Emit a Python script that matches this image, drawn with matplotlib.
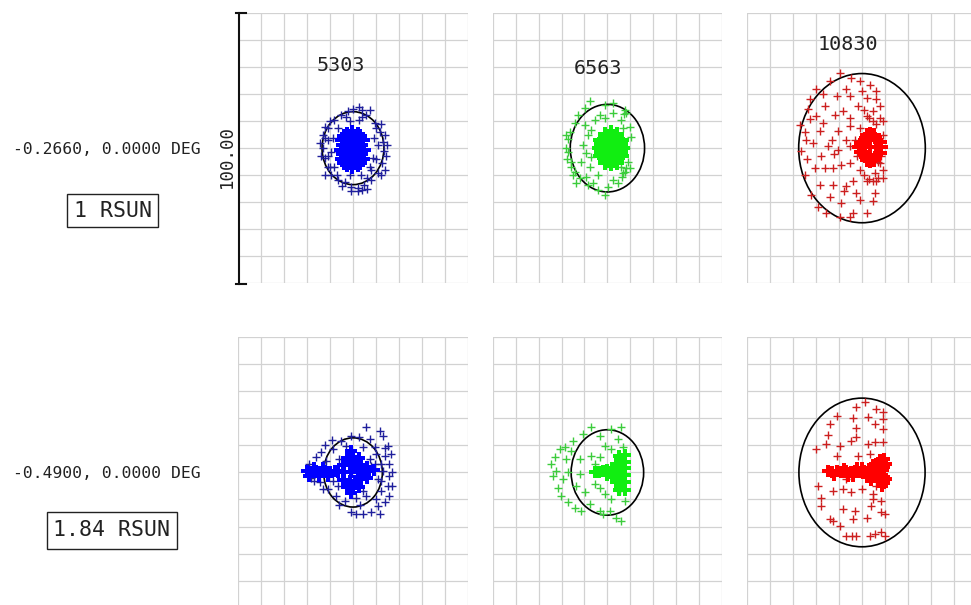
import matplotlib
matplotlib.use("Agg")
import matplotlib.pyplot as plt
from matplotlib.patches import Circle, Rectangle
from matplotlib.lines import Line2D
import numpy as np

plt.rcParams['font.family'] = ['DejaVu Sans Mono', 'DejaVu Sans']

# ---------------------------------------------------------------- labels
wavelengths = ["5303", "6563", "10830"]
row_positions = ["-0.2660, 0.0000 DEG", "-0.4900, 0.0000 DEG"]
row_heights = ["1 RSUN", "1.84 RSUN"]
scale_label = "100.00"

# limb circle radius for each panel (same units as the point offsets)
limb_radius_top = [13.5, 16.2, 27.6]
limb_radius_bottom = [12.8, 15.8, 27.5]

# ---------------------------------------------------------------- row 1 (1 RSUN)
blue_top_ring = [
    (2.8, 15.4), (7.2, 14.2), (-2.3, 13.6), (-5.2, 12.3), (-8.1, 10.5), (-11, 7.4),
    (-12.4, 3.7), (-13.2, 0), (-12.4, -3.7), (-11, -6.8), (-9.5, -9.9), (-6.6, -11.7),
    (-3.7, -12.6), (-0.8, -14.2), (2.1, -14.6), (5, -13.6), (8, -11.7), (10.8, -9.3),
    (12.6, -5.6), (13.4, -1.2), (13, 2.4), (11.6, 6.1), (9.4, 9.3), (5.8, 12.1),
    (10.1, 7.4), (9.1, 3.7), (8.6, -3.7), (7.2, -6.8), (3.6, -9.9), (-1.5, -9.9),
    (-8.1, -6.8), (-9.5, -1.3), (-8.8, 3.7), (-6.6, 7.4), (-1.5, 9.9), (2.8, 10.5),
    (-14.5, 2), (-14, -3), (14.5, -3), (15, 1), (14, 5), (-1, -16), (2, -16),
    (4, -15.5), (6, -15), (12, -10), (14, -8), (-12, -10), (-13, 5), (-10, 10),
    (0, 14.5), (4, 14), (-5, -14), (12, 9), (-11, 3), (-11, -3), (11, 1), (10, -4),
    (6, -11), (-7, -10), (-3, 11.5), (4, 11.5), (8, -8), (-10, -7), (-12, 8),
]
blue_top_core = [
    (-0.3, -0.6), (-3.3, -0.6), (2.7, -0.6), (-5.2, -0.6), (4.6, -0.6),
    (-0.3, 3), (-3.3, 3), (2.7, 3), (-4.8, 3), (4.2, 3),
    (-0.3, -4), (-3.3, -4), (2.7, -4), (-4.8, -4), (4.2, -4),
    (-0.3, 5.8), (-2.6, 5.2), (2, 5.2), (-0.3, -6.8), (-2.6, -6.2), (2, -6.2),
    (-1.8, 1.2), (1.2, 1.2), (-1.8, -2.3), (1.2, -2.3), (-4.2, 1.2), (3.6, 1.2),
    (-4.2, -2.3), (3.6, -2.3), (-1.8, 4.5), (1.2, 4.5), (-1.8, -5.5), (1.2, -5.5),
    (-3.8, 4.6), (3.2, 4.6), (-3.8, -5.4), (3.2, -5.4),
]

green_top_ring = [
    (-7.7, 17.3), (-1.2, 16), (2.5, 16.7), (8.3, 13), (9.7, 8), (10.5, 4.3),
    (9.7, -7.4), (6.8, -9.3), (4.6, -13), (0.3, -14.2), (-1.2, -17.3), (-4.1, -15.4),
    (-8.5, -13.6), (-12.1, -11.1), (-14.3, -8.7), (-15.7, -5), (-17.2, -1.3),
    (-17.2, 3.4), (-16.5, 6.1), (-14.3, 9.3), (-12.8, 12.3), (-9.9, 14.8),
    (-9.9, 8.6), (-8.5, 4.9), (-10.6, 1.2), (-9.2, -1.9), (-11.4, -5), (-7.7, -6.8),
    (-9.2, -10.5), (-4.1, -9.9), (-3.4, 12.3), (-5.5, 10.5), (-1.2, 11.1), (2.5, 13),
    (6.1, 10.5), (6.8, 7.4), (8.3, 0), (9, -5), (2.5, -11.7), (-6.3, -13),
    (-13.5, -13), (-7, -3.1), (-7, 6.8), (6, -7), (7.5, -9), (8, -7.5), (6.5, -10.5),
    (7.6, 14.2), (7.2, 12.5), (-18, 0), (-17.5, -4), (-16, -7), (-18, 5), (-15, -10),
]
green_top_core = [
    (1.5, 0), (-1.5, 0), (4.5, 0), (-3.8, 0), (6.8, 0),
    (1.5, 3.5), (-1.5, 3.5), (4.5, 3.5), (-3.4, 3), (6.3, 3),
    (1.5, -3.5), (-1.5, -3.5), (4.5, -3.5), (-3.4, -3), (6.3, -3),
    (1.5, 6), (-1, 5.4), (4, 5.4), (1.5, -6), (-1, -5.4), (4, -5.4),
    (0, 1.8), (3, 1.8), (0, -1.8), (3, -1.8), (-3, 1.5), (6, 1.5), (-3, -1.5),
    (6, -1.5), (0, 4.6), (3, 4.6), (0, -4.6), (3, -4.6),
]

red_top_ring = [
    (-9.7, 27.9), (-4.6, 26), (-1, 24.7), (3.4, 23.5), (-14.1, 24.7), (-19.9, 21.7),
    (-22.8, 18), (-11.1, 19.2), (-5.3, 19.2), (2, 18.6), (6.3, 18), (7.8, 15.5),
    (-16.2, 15.5), (-23.5, 14.3), (-1.7, 15.5), (-8.3, 13.6), (4.8, 13.6),
    (-27, 8.7), (-22.8, 10.6), (-17, 9.3), (-11.9, 12.4), (-5.3, 11.2), (2, 11.8),
    (7.8, 11.2), (-1, 7.5), (-5.3, 8.1), (-10.4, 6.2), (-18.4, 6.2), (-24.2, 3.1),
    (-26.4, -1.2), (-21.4, 1.9), (-14.8, 0.7), (-10.4, -0.6), (-5.3, 0.7),
    (-20.6, -7.3), (-16.2, -7.3), (-12.6, -7.3), (-9, -6.1), (-5.3, -5.5),
    (-25, -9.8), (-3.9, -12.3), (2, -12.3), (5.6, -9.2), (6.3, -12.3),
    (-18.4, -13.5), (-12.6, -13.5), (-6.8, -14.1), (-22.1, -17.2), (-9, -20.3),
    (-2.4, -16.6), (-1, -19.1), (5.6, -16.6), (4.8, -19.7), (-19.2, -21.6),
    (-15.5, -24), (-9.7, -25.3), (-3.9, -24), (2, -24), (-5.3, -25.3),
    (9, 10), (9, 5), (8.5, -3), (8, -5.5), (9, -8), (9, -11), (7, -5),
    (1, -10), (3, -11.5), (5, -12), (7, -11), (3, 11), (5, 10), (6, 9),
    (-24, -4), (-20, 12), (-13, 3), (-7, 3), (-2, -3), (-1, -8), (-14, -18),
    (-8, -16), (0, 21), (-17, 20), (-25, 6), (-3, 3), (1, 14), (6, 21),
    (-7, 22), (-12, -2), (-18, -3),
]
red_top_core = [
    (3.6, 0.3), (0.8, 0.3), (6.4, 0.3), (-1.2, 0.3), (8.5, 0.3), (3.6, 3.2),
    (3.6, -2.7), (3.6, 5.2), (3.6, -4.8), (1.2, 3.2), (6.0, 3.2), (1.2, -2.7),
    (6.0, -2.7), (-0.4, 1.8), (-0.4, -1.3), (7.8, 2.2), (7.8, -1.8), (2.0, 4.8),
    (5.4, 4.8), (2.0, -4.3), (5.4, -4.3),
]

# ---------------------------------------------------------------- row 2 (1.84 RSUN)
blue_bottom_ring = [
    (5.8, 16.7), (11.6, 15.4), (13, 13.6), (-0.8, 13.6), (2.8, 13), (7.2, 12.3),
    (-5.2, 11.7), (-8.8, 8.6), (-3, 9.9), (4.3, 9.3), (9.4, 9.3), (15.2, 9.9),
    (16.7, 6.8), (13.8, 6.1), (10.1, 6.8), (-16.1, 5.6), (-11.7, 4.3), (15.9, 3.1),
    (13, 0.6), (15.9, -1.2), (10.8, -2.5), (15.2, -5), (12.3, -6.8), (15.9, -8.7),
    (10.1, -9.9), (13.8, -11.1), (10.8, -12.4), (11.6, -15.4), (7.9, -14.8),
    (4.3, -15.4), (1.4, -15.2), (-0.8, -14.8), (-3.7, -10.5), (-7.3, -8.7),
    (-11, -6.2), (-14.6, -3.7), (-18.3, -1.9), (-17, -3), (4.3, -6.8), (5.8, -8.7),
    (1.4, -9.3), (7.9, 2.5), (-5.9, 4.9), (-8.8, -3.1), (-6.6, -5), (7.2, 4.9),
    (9.4, 3.1), (-19, 3.1), (-13.9, 7.4), (-12, 10), (-9, 12), (3, -12), (-6, -12),
    (-13, -6), (12, -3), (17, 0), (12, 3), (17, -5), (14, 9),
]
blue_bottom_core = [
    (-20, 0.5), (-18, 0), (-16, 0.5), (-14, 0), (-12, 0.5), (-10, 0), (-8, 0.5),
    (-6.5, 0), (-19, -1.3), (-17, 1.6), (-15, -1.3), (-13, 1.6), (-11, -1.3),
    (-4, 0), (-1, 0), (2, 0), (4.5, 0), (7, 0.5), (-4.5, 2.8), (-1.5, 3), (1, 3),
    (3.5, 2.6), (-2.6, 5.5), (0, 5.8), (2.4, 5.3), (-0.8, 7.8), (-4.5, -2.8),
    (-1.5, -3), (1, -3), (3.5, -2.6), (-2.6, -5.5), (0, -5.8), (2.4, -5.3),
    (-0.8, -7.5), (6, 2), (6, -2), (9, 1),
]

green_bottom_ring = [
    (-7, 16.7), (1.7, 16), (6.1, 16.7), (-10.7, 14.2), (-3.4, 13.6), (4.6, 12.3),
    (-15, 11.7), (-18.6, 9.3), (-23, 5.6), (-24.5, 3.1), (-22.3, 0.6), (-23.8, -1.2),
    (-19.4, -2.5), (-21.6, -5.6), (-20.1, -8.7), (-17.2, -11.1), (-14.3, -13),
    (-11.4, -14.2), (-7.7, -11.7), (-3.4, -14.2), (1, -14.2), (-1.9, -15.4),
    (3.9, -16.7), (6.1, -17.9), (-17.9, 4.9), (-17.2, 0), (-12.1, 4.9),
    (-12.1, -0.6), (-13.5, -5), (-9.9, -7.4), (-7, 6.1), (-3.4, 5.6), (-5.5, 3.1),
    (-1.2, 9.9), (1.7, 8.6), (-5.5, -4.3), (-3.4, -5.6), (-1.2, -8), (1.7, -9.9),
    (5.4, -6.8), (6.8, 9.3), (4.6, 5.6), (7.6, -10.5), (-15.7, 8), (-20.8, 8.6),
]
green_bottom_core = [
    (7.5, 6.5), (7.5, 4), (7.5, 1.5), (7.5, -1), (7.5, -3.5), (7.5, -6.5),
    (5.5, 5), (5.5, 2.5), (5.5, 0), (5.5, -2.5), (5.5, -5), (3.8, 3.2), (3.8, 1),
    (3.8, -1.2), (3.8, -3.4), (2, 1.6), (2, 0), (2, -1.6), (0, 0.8), (0, -0.8),
    (-2, 0.4), (-3.8, 0), (-5.5, 0), (5, 6.2), (5, -6.5),
]

red_bottom_ring = [
    (1.2, 25.9), (-2.4, 24.1), (6.3, 23.4), (9.2, 22.2), (-11.1, 21), (-3.9, 20),
    (2.7, 20.4), (9.2, 19.7), (-14.1, 17.9), (5.6, 17.9), (-2.4, 16.3), (9.2, 16),
    (-14.8, 13.8), (-2.4, 13), (2.7, 10.5), (5.6, 11.1), (9.2, 11.1), (-9.7, 9.9),
    (-15.5, 10.5), (-19.9, 8.6), (-4.6, 11.7), (-11.1, 6.1), (-1.7, 6.1), (3.4, 6.8),
    (-19.2, -5), (-12.6, -6.8), (-8.3, -6.2), (-4.6, -7.4), (-0.2, -6.2),
    (-6.8, -2.5), (-17.7, -9.3), (-17.7, -12.4), (-8.3, -13.6), (-3.1, -14.2),
    (4.8, -9.9), (8.5, -10.5), (4.1, -12.4), (8.5, -14.8), (10, -15.5),
    (-14.1, -17.3), (-12.6, -17.9), (-3.9, -17.3), (2, -16.7), (-9.7, -19.8),
    (-6.8, -23.5), (-4.5, -23.5), (-2.5, -23.5), (3.4, -23.5), (5.6, -22.8),
    (8.5, -22.2), (9.9, -23.5), (4.8, -8), (6.3, -5),
]
red_bottom_core = [
    (-15, 0.5), (-13, 0), (-11, 0.5), (-9, 0), (-7, 0.5), (-5, 0), (-3, 0.5),
    (-1, 0), (1, 0.5), (3, 0), (5, 0.5), (6.5, 0), (-12, -1), (-8, 1.4), (-4, -1.4),
    (-2, 1.8), (2, -1.8), (4, 1.8), (5, -1.8), (-6, -1.4), (0, 1.6),
    (8, 4.5), (9.5, 5), (8, 2.5), (9.5, 2.2), (8, -1), (9.5, -1.5), (9, 1), (8, -3.3),
    (9.5, -3.8), (8.8, -5), (7, 3.6), (7, -2.8), (10.3, 3.3), (10.3, -2.5),
    (6.5, 1.5), (5, 2.8), (4, -2.8),
]

# ---------------------------------------------------------------- styling
sparse_colors = ['#1f1f9c', '#3ccc3c', '#cc1f1f']
core_colors = ['#0000ff', '#11ee11', '#ff0000']

rows = [
    (limb_radius_top, 10.0, [(blue_top_ring, blue_top_core),
                             (green_top_ring, green_top_core),
                             (red_top_ring, red_top_core)]),
    (limb_radius_bottom, 8.5, [(blue_bottom_ring, blue_bottom_core),
                               (green_bottom_ring, green_bottom_core),
                               (red_bottom_ring, red_bottom_core)]),
]

W, H = 971, 605
fig = plt.figure(figsize=(W / 100, H / 100), dpi=100)


def fx(px):
    return px / W


def fy(py):
    return 1 - py / H


col_left = [238.3, 492.7, 747.3]
row_top = [13.0, 337.3]
panel_w, panel_h = 229.4, 270.3

for r, (radii, core_ms, panels) in enumerate(rows):
    for c, (ring, core) in enumerate(panels):
        ax = fig.add_axes([fx(col_left[c]), fy(row_top[r] + panel_h),
                           panel_w / W, panel_h / H])
        ax.set_xlim(-50, 50)
        ax.set_ylim(-50, 50)
        ax.set_xticks(np.arange(-50, 51, 10))
        ax.set_yticks(np.arange(-50, 51, 10))
        ax.tick_params(length=0, labelbottom=False, labelleft=False)
        ax.grid(True, color='#d2d2d2', lw=0.9)
        ax.set_axisbelow(True)
        for s in ax.spines.values():
            s.set_visible(False)
        ax.patch.set_alpha(0)

        ax.add_patch(Circle((0, 0), radii[c], fill=False, ec='black',
                            lw=1.2, zorder=2))
        rx, ry = zip(*ring)
        ax.plot(rx, ry, ls='none', marker='+', ms=5.5, mew=1.0,
                color=sparse_colors[c], zorder=3)
        cx, cy = zip(*core)
        ax.plot(cx, cy, ls='none', marker='P', ms=core_ms, mew=0,
                color=core_colors[c], zorder=4)

# wavelength titles above the first row
title_pos = [(340.8, 65.5), (598.0, 68.0), (847.7, 45.0)]
for label, (x, y) in zip(wavelengths, title_pos):
    fig.text(fx(x), fy(y), label, ha='center', va='center', fontsize=14.5,
             color='#222222')

# row annotations at the left
pos_y = [149.5, 473.0]
box_rects = [(66.7, 194.3, 91.7, 33.0), (46.7, 511.7, 130.0, 37.6)]
for text, y in zip(row_positions, pos_y):
    fig.text(fx(106.7), fy(y), text, ha='center', va='center', fontsize=11.8,
             color='#222222')
for text, (x0, y0, w, h) in zip(row_heights, box_rects):
    fig.patches.append(Rectangle((fx(x0), fy(y0 + h)), w / W, h / H,
                                 transform=fig.transFigure, fill=False,
                                 ec='#222222', lw=1.0))
    fig.text(fx(x0 + w / 2), fy(y0 + h / 2), text, ha='center', va='center',
             fontsize=15.5, color='#222222')

# vertical scale bar with end ticks
fig.lines.append(Line2D([fx(238.5), fx(238.5)], [fy(13.3), fy(284.0)],
                        transform=fig.transFigure, color='#111111', lw=1.5))
for yy in (13.3, 284.0):
    fig.lines.append(Line2D([fx(236.0), fx(245.5)], [fy(yy), fy(yy)],
                            transform=fig.transFigure, color='#111111', lw=1.5))
fig.text(fx(226.7), fy(156.0), scale_label, rotation=90, ha='center',
         va='center', fontsize=12.5, color='#222222')

fig.savefig('out.png', dpi=100, facecolor='white')
